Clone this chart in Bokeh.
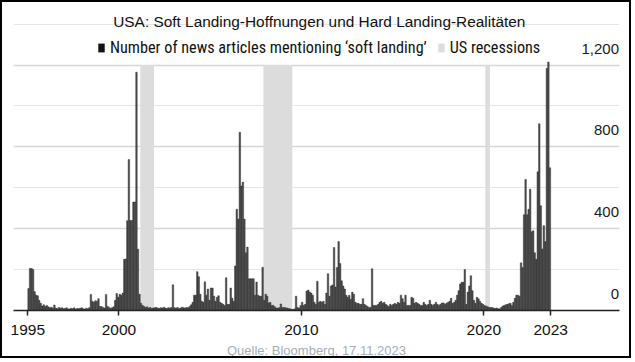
import numpy as np
from bokeh.plotting import figure
from bokeh.models import Range1d, FixedTicker, Grid, Label, Legend, LegendItem
from bokeh.embed import file_html
from bokeh.resources import INLINE
from bokeh.core.properties import value

# ---------------- data ----------------
TITLE = "USA: Soft Landing-Hoffnungen und Hard Landing-Realitäten"
SOURCE = "Quelle: Bloomberg, 17.11.2023"
SERIES_LABEL = "Number of news articles mentioning \u2018soft landing\u2019"
RECESSION_LABEL = "US recessions"

start_year = 1995
a1995 = [107, 205, 205, 200, 92, 75, 72, 50, 35, 22, 28, 20]
a1996 = [25, 18, 14, 16, 12, 27, 12, 9, 15, 11, 14, 9]
a1997 = [10, 13, 8, 7, 11, 9, 13, 7, 10, 9, 11, 13]
a1998 = [9, 7, 11, 9, 14, 78, 45, 40, 48, 45, 58, 20]
a1999 = [20, 15, 12, 78, 20, 15, 10, 14, 18, 50, 83, 65]
a2000 = [80, 75, 85, 250, 252, 439, 738, 440, 440, 530, 531, 1165]
a2001 = [300, 80, 35, 25, 20, 15, 18, 12, 15, 10, 12, 14]
a2002 = [15, 12, 10, 14, 12, 16, 12, 10, 14, 12, 15, 126]
a2003 = [14, 12, 15, 10, 12, 16, 14, 12, 15, 14, 20, 28]
a2004 = [40, 75, 75, 190, 165, 80, 45, 40, 140, 75, 105, 50]
a2005 = [110, 110, 70, 45, 65, 72, 40, 35, 30, 25, 160, 30]
a2006 = [30, 110, 60, 45, 218, 495, 447, 871, 609, 628, 447, 282]
a2007 = [310, 155, 155, 155, 155, 75, 139, 75, 70, 70, 211, 50]
a2008 = [80, 70, 37, 40, 25, 25, 18, 12, 12, 14, 32, 15]
a2009 = [15, 14, 12, 10, 8, 6, 5, 8, 70, 15, 12, 25]
a2010 = [40, 25, 30, 95, 100, 90, 85, 75, 40, 30, 143, 40]
a2011 = [45, 40, 45, 30, 85, 180, 70, 120, 125, 308, 115, 210]
a2012 = [337, 230, 145, 120, 105, 75, 65, 75, 55, 90, 80, 40]
a2013 = [35, 35, 30, 30, 58, 30, 25, 20, 14, 16, 204, 25]
a2014 = [25, 25, 30, 40, 45, 35, 40, 30, 25, 20, 30, 25]
a2015 = [30, 35, 30, 40, 35, 75, 58, 40, 75, 25, 25, 25]
a2016 = [65, 60, 35, 40, 35, 30, 25, 25, 40, 30, 25, 30]
a2017 = [50, 30, 25, 30, 40, 30, 25, 30, 37, 37, 30, 35]
a2018 = [40, 45, 60, 35, 40, 50, 75, 97, 130, 138, 138, 200]
a2019 = [30, 90, 120, 170, 97, 50, 35, 65, 57, 45, 35, 30]
a2020 = [25, 22, 18, 15, 15, 15, 12, 10, 12, 8, 8, 15]
a2021 = [22, 25, 28, 30, 33, 35, 25, 40, 60, 75, 75, 70]
a2022 = [233, 210, 468, 641, 468, 495, 593, 385, 390, 282, 250, 678]
a2023 = [913, 512, 301, 415, 337, 1184, 1215, 698]

recession_start = [2001.167, 2007.917, 2020.083]
recession_end = [2001.917, 2009.5, 2020.333]

x_ticks = [1995, 2000, 2010, 2020, 2023.67]
x_tick_labels = ["1995", "2000", "2010", "2020", "2023"]
y_ticks = [0, 400, 800, 1200]
y_tick_labels = ["0", "400", "800", "1,200"]

yearly = [a1995, a1996, a1997, a1998, a1999, a2000, a2001, a2002, a2003, a2004,
          a2005, a2006, a2007, a2008, a2009, a2010, a2011, a2012, a2013, a2014,
          a2015, a2016, a2017, a2018, a2019, a2020, a2021, a2022, a2023]
xs, vals = [], []
for i, months in enumerate(yearly):
    for m, v in enumerate(months):
        xs.append(start_year + i + (m + 0.5) / 12.0)
        vals.append(v)

# ---------------- figure ----------------
X_START, X_END = 1994.216, 2027.44
p = figure(width=631, height=358,
           x_range=Range1d(X_START, X_END), y_range=Range1d(0, 1506),
           output_backend="svg", toolbar_location=None,
           y_axis_location=None,
           min_border_left=11, min_border_right=14,
           min_border_top=0, min_border_bottom=48)
p.styles = {"border": "2px solid black"}
p.outline_line_color = None
p.background_fill_color = "white"
p.border_fill_color = "white"
p.xgrid.visible = False

p.add_layout(Grid(dimension=1, ticker=FixedTicker(ticks=y_ticks),
                  grid_line_color="#d6d6d6", grid_line_width=1.5))

bands = p.quad(left=recession_start, right=recession_end, bottom=0, top=y_ticks[-1],
               fill_color="#dcdcdc", line_color=None)

p.vbar(x=xs, top=vals, width=1 / 12.0, fill_color="#505050",
       line_color="#1e1e1e", line_width=0.4)

# zero-height proxy bar, used only as the legend swatch
legend_swatch = p.vbar(x=xs[:1], top=[0], width=1 / 12.0,
                       fill_color="#111111", line_color=None)

legend = Legend(items=[LegendItem(label=SERIES_LABEL, renderers=[legend_swatch]),
                       LegendItem(label=RECESSION_LABEL, renderers=[bands])],
                location=(84, 253), orientation="horizontal",
                glyph_width=8, glyph_height=11, label_standoff=5, spacing=10,
                padding=0, margin=0, border_line_color=None,
                background_fill_alpha=0,
                label_text_font="Roboto Condensed",
                label_text_font_size="16.2px", label_text_color="#111111",
                label_height=11)
p.add_layout(legend)

p.add_layout(Label(x=305.8, y=289, x_units="screen", y_units="screen",
                   text=TITLE, text_align="center", text_baseline="alphabetic",
                   text_font="Liberation Sans", text_font_size="15.4px",
                   text_color="#111111"))

p.text(x=[X_END] * len(y_ticks), y=y_ticks, text=y_tick_labels,
       text_align="right", text_baseline="alphabetic",
       x_offset=-0.5, y_offset=-16.5,
       text_font=value("Liberation Sans"), text_font_size=value("15px"),
       text_color="#1a1a1a")

ax = p.xaxis[0]
ax.ticker = FixedTicker(ticks=x_ticks)
ax.major_label_overrides = {t: l for t, l in zip(x_ticks, x_tick_labels)}
ax.axis_line_color = "#222222"
ax.axis_line_width = 1.5
ax.major_tick_line_color = "#222222"
ax.major_tick_line_width = 1.5
ax.major_tick_out = 5
ax.major_tick_in = 0
ax.minor_tick_out = 0
ax.minor_tick_in = 0
ax.major_label_standoff = 9
ax.major_label_text_font = "Liberation Sans"
ax.major_label_text_font_size = "15.5px"
ax.major_label_text_color = "#111111"
ax.axis_label = SOURCE
ax.axis_label_text_font = "Liberation Sans"
ax.axis_label_text_font_size = "13px"
ax.axis_label_text_font_style = "normal"
ax.axis_label_text_color = "#a6adb8"
ax.axis_label_standoff = 5

open("out.html", "w").write(file_html(p, INLINE))
